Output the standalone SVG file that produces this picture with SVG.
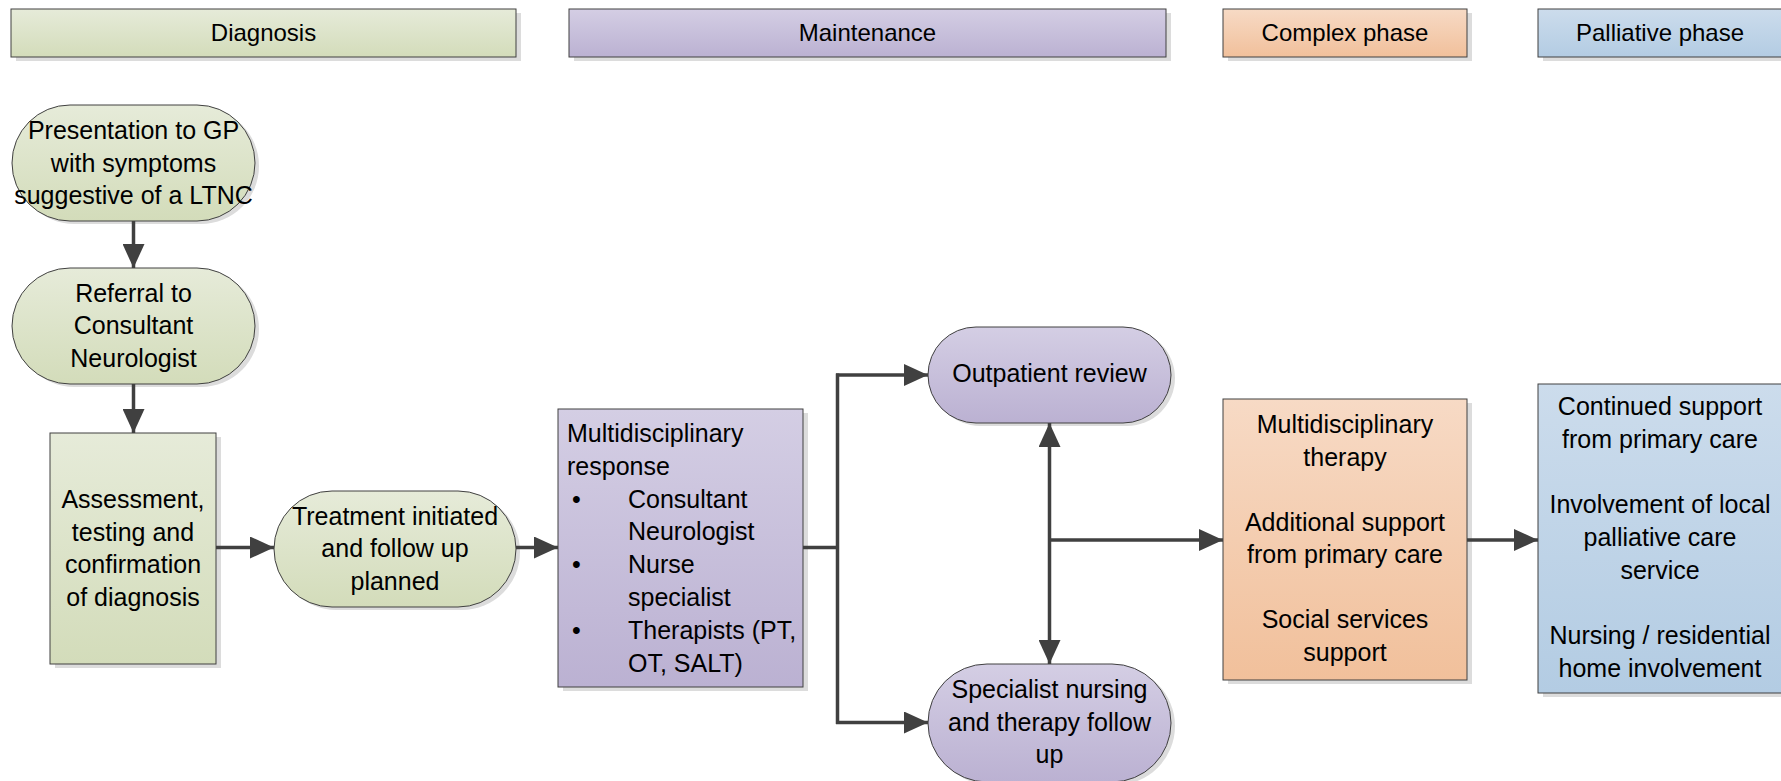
<svg xmlns="http://www.w3.org/2000/svg" width="1781" height="781" viewBox="0 0 1781 781">
  <style>
    text { font-family: "Liberation Sans", Arial, sans-serif; font-size: 25px; fill: #000; }
    .hdr text { font-size: 24px; }
    .c { text-anchor: middle; }
    .box { stroke: #404040; stroke-width: 1; }
    .shadow { fill: #dcdcdc; stroke: none; }
    .green { fill: url(#gGreen); }
    .purple { fill: url(#gPurple); }
    .orange { fill: url(#gOrange); }
    .blue { fill: url(#gBlue); }
    .link { fill: none; stroke: #404040; stroke-width: 3.5; }
  </style>
  <defs>
    <linearGradient id="gGreen" x1="0" y1="0" x2="0" y2="1">
      <stop offset="0" stop-color="#e6ebd9"/>
      <stop offset="1" stop-color="#d3dcba"/>
    </linearGradient>
    <linearGradient id="gPurple" x1="0" y1="0" x2="0" y2="1">
      <stop offset="0" stop-color="#d4cee4"/>
      <stop offset="1" stop-color="#bbb1d2"/>
    </linearGradient>
    <linearGradient id="gOrange" x1="0" y1="0" x2="0" y2="1">
      <stop offset="0" stop-color="#f7dac5"/>
      <stop offset="1" stop-color="#f1c09b"/>
    </linearGradient>
    <linearGradient id="gBlue" x1="0" y1="0" x2="0" y2="1">
      <stop offset="0" stop-color="#ccdcec"/>
      <stop offset="1" stop-color="#b3cce3"/>
    </linearGradient>
    <marker id="arrow" viewBox="0 0 24 22" refX="24" refY="11" markerWidth="24" markerHeight="22" markerUnits="userSpaceOnUse" orient="auto-start-reverse">
      <path d="M0,0 L24,11 L0,22 z" fill="#404040"/>
    </marker>
  </defs>

  <!-- Phase headers -->
  <g id="header-diagnosis" class="hdr">
    <rect class="shadow" x="16" y="13" width="505" height="48"/>
    <rect class="box green" x="11" y="9" width="505" height="48"/>
    <text class="c" x="263.5" y="41">Diagnosis</text>
  </g>
  <g id="header-maintenance" class="hdr">
    <rect class="shadow" x="574" y="13" width="597" height="48"/>
    <rect class="box purple" x="569" y="9" width="597" height="48"/>
    <text class="c" x="867.5" y="41">Maintenance</text>
  </g>
  <g id="header-complex" class="hdr">
    <rect class="shadow" x="1228" y="13" width="244" height="48"/>
    <rect class="box orange" x="1223" y="9" width="244" height="48"/>
    <text class="c" x="1345" y="41">Complex phase</text>
  </g>
  <g id="header-palliative" class="hdr">
    <rect class="shadow" x="1543" y="13" width="244" height="48"/>
    <rect class="box blue" x="1538" y="9" width="244" height="48"/>
    <text class="c" x="1660" y="41">Palliative phase</text>
  </g>

  <!-- Diagnosis column -->
  <g id="node-presentation">
    <rect class="shadow" x="16" y="108" width="243" height="116" rx="58" ry="58"/>
    <rect class="box green" x="12" y="105" width="243" height="116" rx="58" ry="58"/>
    <text class="c" x="133.5" y="139">Presentation to GP</text>
    <text class="c" x="133.5" y="171.5">with symptoms</text>
    <text class="c" x="133.5" y="204">suggestive of a LTNC</text>
  </g>
  <g id="node-referral">
    <rect class="shadow" x="16" y="271" width="243" height="116" rx="58" ry="58"/>
    <rect class="box green" x="12" y="268" width="243" height="116" rx="58" ry="58"/>
    <text class="c" x="133.5" y="301.5">Referral to</text>
    <text class="c" x="133.5" y="334">Consultant</text>
    <text class="c" x="133.5" y="366.5">Neurologist</text>
  </g>
  <g id="node-assessment">
    <rect class="shadow" x="55" y="437" width="166" height="231"/>
    <rect class="box green" x="50" y="433" width="166" height="231"/>
    <text class="c" x="133" y="508">Assessment,</text>
    <text class="c" x="133" y="540.5">testing and</text>
    <text class="c" x="133" y="573">confirmation</text>
    <text class="c" x="133" y="605.5">of diagnosis</text>
  </g>
  <g id="node-treatment">
    <rect class="shadow" x="278" y="494" width="242" height="116" rx="58" ry="58"/>
    <rect class="box green" x="274" y="491" width="242" height="116" rx="58" ry="58"/>
    <text class="c" x="395" y="524.5">Treatment initiated</text>
    <text class="c" x="395" y="557">and follow up</text>
    <text class="c" x="395" y="589.5">planned</text>
  </g>

  <!-- Maintenance column -->
  <g id="node-mdt-response">
    <rect class="shadow" x="563" y="413" width="245" height="278"/>
    <rect class="box purple" x="558" y="409" width="245" height="278"/>
    <text x="567" y="442">Multidisciplinary</text>
    <text x="567" y="474.8">response</text>
    <text x="572" y="507.6">•</text>
    <text x="628" y="507.6">Consultant</text>
    <text x="628" y="540.4">Neurologist</text>
    <text x="572" y="573.2">•</text>
    <text x="628" y="573.2">Nurse</text>
    <text x="628" y="606">specialist</text>
    <text x="572" y="638.8">•</text>
    <text x="628" y="638.8">Therapists (PT,</text>
    <text x="628" y="671.6">OT, SALT)</text>
  </g>
  <g id="node-outpatient">
    <rect class="shadow" x="932" y="330" width="243" height="96" rx="48" ry="48"/>
    <rect class="box purple" x="928" y="327" width="243" height="96" rx="48" ry="48"/>
    <text class="c" x="1049.5" y="382">Outpatient review</text>
  </g>
  <g id="node-specialist">
    <rect class="shadow" x="932" y="667" width="243" height="118" rx="59" ry="59"/>
    <rect class="box purple" x="928" y="664" width="243" height="118" rx="59" ry="59"/>
    <text class="c" x="1049.5" y="698">Specialist nursing</text>
    <text class="c" x="1049.5" y="730.5">and therapy follow</text>
    <text class="c" x="1049.5" y="763">up</text>
  </g>

  <!-- Complex phase -->
  <g id="node-complex">
    <rect class="shadow" x="1228" y="403" width="244" height="281"/>
    <rect class="box orange" x="1223" y="399" width="244" height="281"/>
    <text class="c" x="1345" y="433">Multidisciplinary</text>
    <text class="c" x="1345" y="465.5">therapy</text>
    <text class="c" x="1345" y="530.5">Additional support</text>
    <text class="c" x="1345" y="563">from primary care</text>
    <text class="c" x="1345" y="628">Social services</text>
    <text class="c" x="1345" y="660.5">support</text>
  </g>

  <!-- Palliative phase -->
  <g id="node-palliative">
    <rect class="shadow" x="1543" y="388" width="244" height="309"/>
    <rect class="box blue" x="1538" y="384" width="244" height="309"/>
    <text class="c" x="1660" y="415">Continued support</text>
    <text class="c" x="1660" y="447.5">from primary care</text>
    <text class="c" x="1660" y="513">Involvement of local</text>
    <text class="c" x="1660" y="546">palliative care</text>
    <text class="c" x="1660" y="578.5">service</text>
    <text class="c" x="1660" y="644">Nursing / residential</text>
    <text class="c" x="1660" y="677">home involvement</text>
  </g>

  <!-- Connectors -->
  <g id="connectors">
    <path class="link" d="M133.5,221 V268" marker-end="url(#arrow)"/>
    <path class="link" d="M133.5,384 V433" marker-end="url(#arrow)"/>
    <path class="link" d="M216,547.5 H274" marker-end="url(#arrow)"/>
    <path class="link" d="M516,547.5 H558" marker-end="url(#arrow)"/>
    <path class="link" d="M803,547.5 H837.5"/>
    <path class="link" d="M837.5,373.5 V724"/>
    <path class="link" d="M836,375 H928" marker-end="url(#arrow)"/>
    <path class="link" d="M836,722.5 H928" marker-end="url(#arrow)"/>
    <path class="link" d="M1049.5,423 V664" marker-start="url(#arrow)" marker-end="url(#arrow)"/>
    <path class="link" d="M1049.5,540 H1223" marker-end="url(#arrow)"/>
    <path class="link" d="M1467,540 H1538" marker-end="url(#arrow)"/>
  </g>
</svg>
